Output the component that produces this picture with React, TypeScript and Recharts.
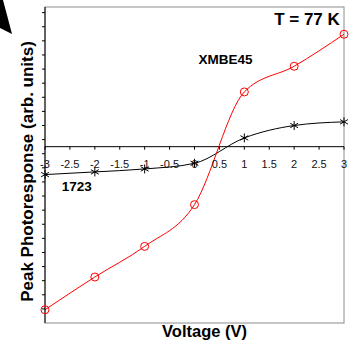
import React from 'react';
import { LineChart, Line, XAxis, YAxis, ReferenceLine, Customized } from 'recharts';

const voltages = [-3, -2, -1, 0, 1, 2, 3];
const xmbe45 = [-11.56, -9.24, -7.07, -4.11, 3.88, 5.7, 7.97];
const s1723 = [-1.98, -1.79, -1.58, -1.18, 0.62, 1.5, 1.76];
const X_TICKS = [-3, -2.5, -2, -1.5, -1, -0.5, 0, 0.5, 1, 1.5, 2, 2.5, 3];
const Y_TICKS = [-11.5, -10.5, -9.5, -8.5, -7.5, -6.5, -5.5, -4.5, -3.5, -2.5, -1.5, -0.5, 0.5, 1.5, 2.5, 3.5, 4.5, 5.5, 6.5, 7.5, 8.5, 9.5];

const data = voltages.map((v, i) => ({ v, red: xmbe45[i], black: s1723[i] }));

const W = 354;
const H = 340;
const YW = 6;
const XH = 6;
const M = { top: 7, right: 10, bottom: 17 - XH, left: 45 - YW };
const Y_MIN = -12.5;
const Y_MAX = 9.9;
const PLOT_L = M.left + YW;
const PLOT_W = W - PLOT_L - M.right;
const PLOT_H = H - M.top - M.bottom - XH;
const ZERO_Y = M.top + (PLOT_H * (Y_MAX - 0)) / (Y_MAX - Y_MIN);
const FONT = '"Liberation Sans", Arial, sans-serif';

const XTick = (props: any) => {
  const { x, payload } = props;
  return (
    <g>
      <line x1={x} x2={x} y1={ZERO_Y} y2={ZERO_Y + 3} stroke="#000" strokeWidth={1} />
      <text x={x} y={ZERO_Y + 21.5} textAnchor="middle" fontSize={11} fontFamily={FONT} fill="#111">
        {payload.value}
      </text>
    </g>
  );
};

const NoTick = () => <g />;

const Circle = (props: any) => {
  const { cx, cy } = props;
  if (cx == null || cy == null) return <g />;
  return <circle cx={cx} cy={cy} r={4} fill="none" stroke="#ff0000" strokeWidth={1} />;
};

const Star = (props: any) => {
  const { cx, cy } = props;
  if (cx == null || cy == null) return <g />;
  const r = 4.5;
  const d = r * 0.87;
  return (
    <g stroke="#000" strokeWidth={1}>
      <line x1={cx} x2={cx} y1={cy - r} y2={cy + r} />
      <line x1={cx - d} x2={cx + d} y1={cy - r / 2} y2={cy + r / 2} />
      <line x1={cx - d} x2={cx + d} y1={cy + r / 2} y2={cy - r / 2} />
    </g>
  );
};

const Frame = () => (
  <g>
    <rect x={PLOT_L} y={M.top} width={PLOT_W} height={PLOT_H} fill="none" stroke="#8c8c8c" strokeWidth={1} />
  </g>
);

const Decor = () => (
  <g fontFamily={FONT} fontWeight="bold" fill="#000">
    <polygon points="0,0 3,0 12,34 0,28" fill="#000" />
    <text x={307} y={25} textAnchor="middle" fontSize={17}>T = 77 K</text>
    <text x={225.5} y={64} textAnchor="middle" fontSize={13.5}>XMBE45</text>
    <text x={76.7} y={191} textAnchor="middle" fontSize={13.5}>1723</text>
    <text x={204.5} y={337} textAnchor="middle" fontSize={16.5}>Voltage (V)</text>
    <text
      x={33}
      y={171.5}
      textAnchor="middle"
      fontSize={17}
      transform="rotate(-90 33 171.5)"
    >
      Peak Photoresponse (arb. units)
    </text>
  </g>
);

export default function App() {
  return (
    <div style={{ position: 'absolute', left: 0, top: 0, width: W, height: H, background: '#fff' }}>
      <LineChart width={W} height={H} data={data} margin={M}>
        <Customized component={<Frame />} />
        <XAxis
          dataKey="v"
          type="number"
          domain={[-3, 3]}
          ticks={X_TICKS}
          axisLine={false}
          tickLine={false}
          tick={<XTick />}
          height={XH}
          interval={0}
        />
        <YAxis
          type="number"
          domain={[Y_MIN, Y_MAX]}
          ticks={Y_TICKS}
          width={YW}
          tick={<NoTick />}
          tickSize={3}
          axisLine={{ stroke: '#000' }}
          tickLine={{ stroke: '#000' }}
          interval={0}
          allowDataOverflow
        />
        <ReferenceLine y={0} stroke="#000" strokeWidth={1} />
        <Line
          type="monotone"
          dataKey="black"
          stroke="#000"
          strokeWidth={1}
          dot={<Star />}
          isAnimationActive={false}
        />
        <Line
          type="monotone"
          dataKey="red"
          stroke="#ff0000"
          strokeWidth={1}
          dot={<Circle />}
          isAnimationActive={false}
        />
        <Customized component={<Decor />} />
      </LineChart>
    </div>
  );
}
